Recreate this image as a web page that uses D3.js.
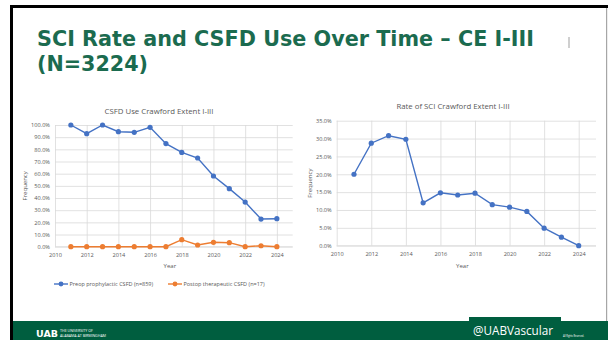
<!DOCTYPE html>
<html>
<head>
<meta charset="utf-8">
<script src="https://cdn.jsdelivr.net/npm/d3@7"></script>
<style>
  html, body { margin: 0; padding: 0; background: #fff; }
  svg { display: block; }
  text { font-family: "Open Sans", sans-serif; }
</style>
</head>
<body>
<script>
'use strict';

// data
const years = [2011, 2012, 2013, 2014, 2015, 2016, 2017, 2018, 2019, 2020, 2021, 2022, 2023, 2024];
const preopCSFD = [100, 92.9, 100, 94.5, 94.0, 98.1, 84.7, 77.5, 72.9, 58.1, 47.7, 36.7, 22.7, 23.0];
const postopCSFD = [0, 0, 0, 0, 0, 0, 0, 5.8, 1.4, 3.6, 3.3, 0, 0.8, 0];
const sciRate = [20.0, 28.7, 30.8, 29.8, 12.0, 14.8, 14.2, 14.7, 11.5, 10.8, 9.6, 4.9, 2.4, 0];
const yearTicks = [2010, 2012, 2014, 2016, 2018, 2020, 2022, 2024];
const csfdTicks = [0, 10, 20, 30, 40, 50, 60, 70, 80, 90, 100];
const sciTicks = [0, 5, 10, 15, 20, 25, 30, 35];
const legendLabels = ['Preop prophylactic CSFD (n=859)', 'Postop therapeutic CSFD (n=17)'];

const width = 608, height = 340;
const blue = '#4472c4', orange = '#ed7d31', grid = '#d9d9d9', txt = '#595959';
const green = '#005e3f';

let svg = d3.select('body').append('svg')
	.attr('width', width)
	.attr('height', height);

// slide frame
svg.append('rect').attr('x', 10).attr('y', 5).attr('width', 598).attr('height', 3).attr('fill', '#000');
svg.append('rect').attr('x', 10).attr('y', 5).attr('width', 3).attr('height', 335).attr('fill', '#000');
svg.append('rect').attr('x', 606).attr('y', 8).attr('width', 1.2).attr('height', 313).attr('fill', '#a6a6a6');
svg.append('rect').attr('x', 568.5).attr('y', 37).attr('width', 1).attr('height', 11).attr('fill', '#a0a0a0');

// slide title
let title = svg.append('g')
	.attr('fill', '#1b6b4f')
	.style('font-weight', 'bold')
	.style('font-size', '22px');
title.append('text').attr('x', 37).attr('y', 46)
	.attr('textLength', 497).attr('lengthAdjust', 'spacingAndGlyphs')
	.style('font-family', '"DejaVu Sans", sans-serif')
	.text('SCI Rate and CSFD Use Over Time \u2013 CE I-III');
title.append('text').attr('x', 37).attr('y', 71)
	.attr('textLength', 111).attr('lengthAdjust', 'spacingAndGlyphs')
	.style('font-family', '"DejaVu Sans", sans-serif')
	.text('(N=3224)');

function drawChart(cfg) {
	let g = svg.append('g');
	let x = d3.scaleLinear().domain([2010, 2025]).range(cfg.xr);
	let y = d3.scaleLinear().domain(cfg.yd).range(cfg.yr);
	let w = cfg.xr[1] - cfg.xr[0];
	let h = cfg.yr[0] - cfg.yr[1];

	// horizontal gridlines + y labels
	let ya = g.append('g')
		.attr('transform', `translate(${cfg.xr[0]},0)`)
		.call(d3.axisLeft(y).tickValues(cfg.yticks).tickSize(-w).tickPadding(5)
			.tickFormat(d => d.toFixed(1) + '%'));
	ya.select('.domain').remove();
	ya.selectAll('line').attr('stroke', grid).attr('stroke-width', 0.8);
	ya.selectAll('text').attr('fill', txt).style('font-size', '5.6px').style('font-family', '"Open Sans", sans-serif');

	// vertical gridlines + x labels
	let xa = g.append('g')
		.attr('transform', `translate(0,${cfg.yr[0]})`)
		.call(d3.axisBottom(x).tickValues(yearTicks).tickSize(-h).tickPadding(6)
			.tickFormat(d3.format('d')));
	xa.select('.domain').remove();
	xa.selectAll('line').attr('stroke', grid).attr('stroke-width', 0.8);
	xa.selectAll('text').attr('fill', txt).style('font-size', '5.6px').style('font-family', '"Open Sans", sans-serif');

	g.append('line')
		.attr('x1', cfg.xr[0]).attr('x2', cfg.xr[1])
		.attr('y1', cfg.yr[0]).attr('y2', cfg.yr[0])
		.attr('stroke', grid).attr('stroke-width', 0.8);

	// series
	let line = d3.line().x((d, i) => x(years[i])).y(d => y(d));
	cfg.series.forEach(s => {
		g.append('path').datum(s.values)
			.attr('fill', 'none').attr('stroke', s.color).attr('stroke-width', 1.4)
			.attr('d', line);
		g.selectAll(null).data(s.values).enter().append('circle')
			.attr('cx', (d, i) => x(years[i]))
			.attr('cy', d => y(d))
			.attr('r', 2.6)
			.attr('fill', s.color);
	});

	// titles
	g.append('text').attr('x', cfg.titleX).attr('y', cfg.titleY)
		.attr('text-anchor', 'middle').attr('fill', txt).style('font-size', '7.8px')
		.text(cfg.title);
	g.append('text').attr('x', (cfg.xr[0] + cfg.xr[1]) / 2 - 4).attr('y', 268)
		.attr('text-anchor', 'middle').attr('fill', txt).style('font-size', '6px')
		.text('Year');
	g.append('text')
		.attr('transform', `translate(${cfg.freqX},${(cfg.yr[0] + cfg.yr[1]) / 2}) rotate(-90)`)
		.attr('text-anchor', 'middle').attr('fill', txt).style('font-size', '6px')
		.text('Frequency');
	return {x, y};
}

drawChart({
	xr: [55, 292.7], yr: [246.7, 125], yd: [0, 100], yticks: csfdTicks,
	title: 'CSFD Use Crawford Extent I-III', titleX: 159, titleY: 114, freqX: 27,
	series: [{values: preopCSFD, color: blue}, {values: postopCSFD, color: orange}]
});

drawChart({
	xr: [336.7, 596], yr: [245.7, 120.7], yd: [0, 35], yticks: sciTicks,
	title: 'Rate of SCI Crawford Extent I-III', titleX: 453, titleY: 108.5, freqX: 312,
	series: [{values: sciRate, color: blue}]
});

// legend for left chart
let legend = svg.append('g').attr('transform', 'translate(0,284)');
[[54, blue, legendLabels[0]], [168, orange, legendLabels[1]]].forEach(([lx, c, label]) => {
	legend.append('line').attr('x1', lx).attr('x2', lx + 14).attr('y1', 0).attr('y2', 0)
		.attr('stroke', c).attr('stroke-width', 1.4);
	legend.append('circle').attr('cx', lx + 7).attr('cy', 0).attr('r', 2.4).attr('fill', c);
	legend.append('text').attr('x', lx + 15.5).attr('y', 2)
		.attr('fill', txt).style('font-size', '5.5px').text(label);
});

// footer
svg.append('rect').attr('x', 13).attr('y', 321).attr('width', 595).attr('height', 19).attr('fill', green);
svg.append('text').attr('x', 36).attr('y', 337)
	.attr('fill', '#fff').attr('textLength', 22).attr('lengthAdjust', 'spacingAndGlyphs')
	.style('font-family', '"DejaVu Sans", sans-serif').style('font-weight', 'bold').style('font-size', '9.5px')
	.text('UAB');
svg.append('text').attr('x', 60).attr('y', 332)
	.attr('fill', '#fff').style('font-size', '3.6px').text('THE UNIVERSITY OF');
svg.append('text').attr('x', 60).attr('y', 336.5)
	.attr('fill', '#fff').style('font-size', '3.6px').text('ALABAMA AT BIRMINGHAM');

svg.append('rect').attr('x', 469).attr('y', 317).attr('width', 92).attr('height', 23)
	.attr('fill', green);
svg.append('text').attr('x', 473).attr('y', 334.5)
	.attr('fill', '#fff').attr('textLength', 80).attr('lengthAdjust', 'spacingAndGlyphs')
	.style('font-family', '"Open Sans", sans-serif').style('font-size', '13.5px')
	.text('@UABVascular');
svg.append('text').attr('x', 563).attr('y', 337)
	.attr('fill', '#fff').attr('textLength', 21).attr('lengthAdjust', 'spacingAndGlyphs')
	.style('font-size', '3.8px').text('All Rights Reserved.');
</script>
</body>
</html>
